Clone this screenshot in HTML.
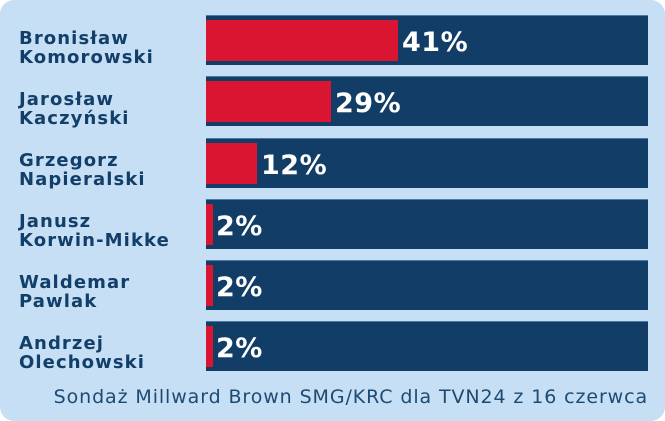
<!DOCTYPE html>
<html><head><style>
body{margin:0;width:665px;height:421px;background:#fff;overflow:hidden}
.bg{position:absolute;left:0;top:0;width:665px;height:421px;background:#c6dff4;border-radius:14px}
.lab{position:absolute;left:19px;font:bold 18px/19px "DejaVu Sans","Liberation Sans",sans-serif;color:#123f69;letter-spacing:1.1px}
.bar{position:absolute;left:206px;width:442px;height:49px;background:#113d66;border-top:1px solid #4a7aa5}
.red{position:absolute;left:0;top:4px;height:41px;background:#d91532}
.pct{position:absolute;top:12px;font:bold 27px/30px "DejaVu Sans","Liberation Sans",sans-serif;color:#fff;letter-spacing:0.5px}
.foot{position:absolute;right:17px;top:386px;font:19px/22px "DejaVu Sans","Liberation Sans",sans-serif;color:#1d4a74;letter-spacing:0.9px;white-space:nowrap}
</style></head><body>
<div class="bg"></div>
<div class="lab" style="top:29px">Bronisław<br>Komorowski</div>
<div class="lab" style="top:90px">Jarosław<br>Kaczyński</div>
<div class="lab" style="top:151px">Grzegorz<br>Napieralski</div>
<div class="lab" style="top:212px">Janusz<br>Korwin-Mikke</div>
<div class="lab" style="top:273px">Waldemar<br>Pawlak</div>
<div class="lab" style="top:334px">Andrzej<br>Olechowski</div>
<div class="bar" style="top:15px"><div class="red" style="width:192px"></div><div class="pct" style="left:196px">41%</div></div>
<div class="bar" style="top:76px"><div class="red" style="width:125px"></div><div class="pct" style="left:129px">29%</div></div>
<div class="bar" style="top:138px"><div class="red" style="width:51px"></div><div class="pct" style="left:55px">12%</div></div>
<div class="bar" style="top:199px"><div class="red" style="width:7px"></div><div class="pct" style="left:10px">2%</div></div>
<div class="bar" style="top:260px"><div class="red" style="width:7px"></div><div class="pct" style="left:10px">2%</div></div>
<div class="bar" style="top:321px"><div class="red" style="width:7px"></div><div class="pct" style="left:10px">2%</div></div>
<div class="foot">Sondaż Millward Brown SMG/KRC dla TVN24 z 16 czerwca</div>
</body></html>
